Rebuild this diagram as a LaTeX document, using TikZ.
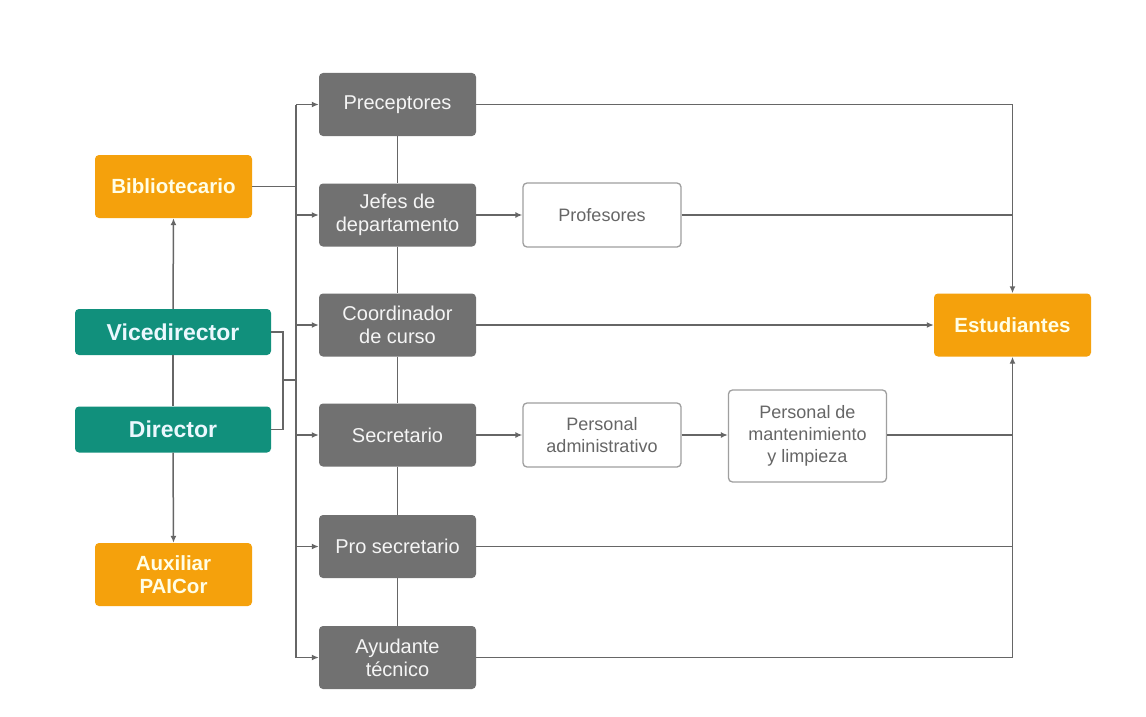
\documentclass[tikz,border=0pt]{standalone}
\usepackage{fontspec}
\setmainfont{Liberation Sans}
\usetikzlibrary{arrows.meta}
\definecolor{orng}{HTML}{F5A10C}
\definecolor{teal2}{HTML}{11907C}
\definecolor{gbox}{HTML}{717171}
\definecolor{lnc}{HTML}{666666}
\definecolor{wtxt}{HTML}{666666}
\tikzset{
  base/.style={rounded corners=4pt, align=center, inner sep=0pt},
  greybox/.style={base, fill=gbox, text=white!92!gray, minimum width=157pt, minimum height=63pt, font=\fontsize{20}{23}\selectfont},
  orbox/.style={base, fill=orng, text=white!90!yellow, minimum width=157pt, minimum height=63pt, font=\bfseries\fontsize{20.5}{23}\selectfont},
  tealbox/.style={base, fill=teal2, text=white!92!cyan, minimum width=196pt, minimum height=46pt, font=\bfseries\fontsize{23}{26}\selectfont},
  whbox/.style={base, draw=gray!75, line width=1.3pt, fill=white, text=wtxt, minimum width=158pt, minimum height=64pt, font=\fontsize{18}{21.7}\selectfont},
  ln/.style={draw=lnc, line width=1.5pt},
  arr/.style={ln, -{Latex[length=7pt,width=6pt]}}
}
\begin{document}
\begin{tikzpicture}[x=1pt,y=-1pt]
\useasboundingbox[fill=white] (0,0) rectangle (1146,717);
% grey column
\node[greybox] (pre) at (397.5,104.5) {Preceptores};
\node[greybox] (jef) at (397.5,215) {Jefes de\\departamento};
\node[greybox] (coo) at (397.5,325) {Coordinador\\de curso};
\node[greybox] (sec) at (397.5,435) {Secretario};
\node[greybox] (pro) at (397.5,546.5) {Pro secretario};
\node[greybox] (ayu) at (397.5,657.5) {Ayudante\\técnico};
% left
\node[orbox] (bib) at (173.5,186.5) {Bibliotecario};
\node[tealbox] (vic) at (173,332) {Vicedirector};
\node[tealbox] (dir) at (173,429.5) {Director};
\node[orbox] (aux) at (173.5,574.5) {Auxiliar\\PAICor};
% right
\node[whbox] (prof) at (602,215) {Profesores};
\node[whbox] (padm) at (602,435) {Personal\\administrativo};
\node[whbox, minimum height=92pt] (pman) at (807.5,436) {Personal de\\mantenimiento\\y limpieza};
\node[orbox] (est) at (1012.5,325) {Estudiantes};
% helper coordinates
\coordinate (tx) at (296,0);
\coordinate (jx) at (283,0);
\coordinate (jm) at (283,380);
\coordinate (rx) at (1012.5,0);
% grey chain
\draw[ln] (pre.south) -- (jef.north);
\draw[ln] (jef.south) -- (coo.north);
\draw[ln] (coo.south) -- (sec.north);
\draw[ln] (sec.south) -- (pro.north);
\draw[ln] (pro.south) -- (ayu.north);
% trunk
\draw[ln] (pre.west -| tx) -- (ayu.west -| tx);
\foreach \n in {pre,jef,coo,sec,pro,ayu}{
  \draw[arr] (\n.west -| tx) -- (\n.west);
}
\draw[ln] (bib.east) -- (bib.east -| tx);
\draw[ln] (vic.east) -- (vic.east -| jx) -- (dir.east -| jx) -- (dir.east);
\draw[ln] (jm) -- (jm -| tx);
% left vertical
\draw[arr] (vic.north) -- (bib.south);
\draw[ln] (vic.south) -- (dir.north);
\draw[arr] (dir.south) -- (aux.north);
% right side
\draw[arr] (pre.east) -- (pre.east -| rx) -- (est.north);
\draw[arr] (jef.east) -- (prof.west);
\draw[ln] (prof.east) -- (prof.east -| rx);
\draw[arr] (coo.east) -- (est.west);
\draw[arr] (sec.east) -- (padm.west);
\draw[arr] (padm.east) -- (pman.west |- padm.east);
\draw[ln] (pman.east |- padm.east) -- (padm.east -| rx);
\draw[ln] (pro.east) -- (pro.east -| rx);
\draw[arr] (ayu.east) -- (ayu.east -| rx) -- (est.south);
\end{tikzpicture}
\end{document}
